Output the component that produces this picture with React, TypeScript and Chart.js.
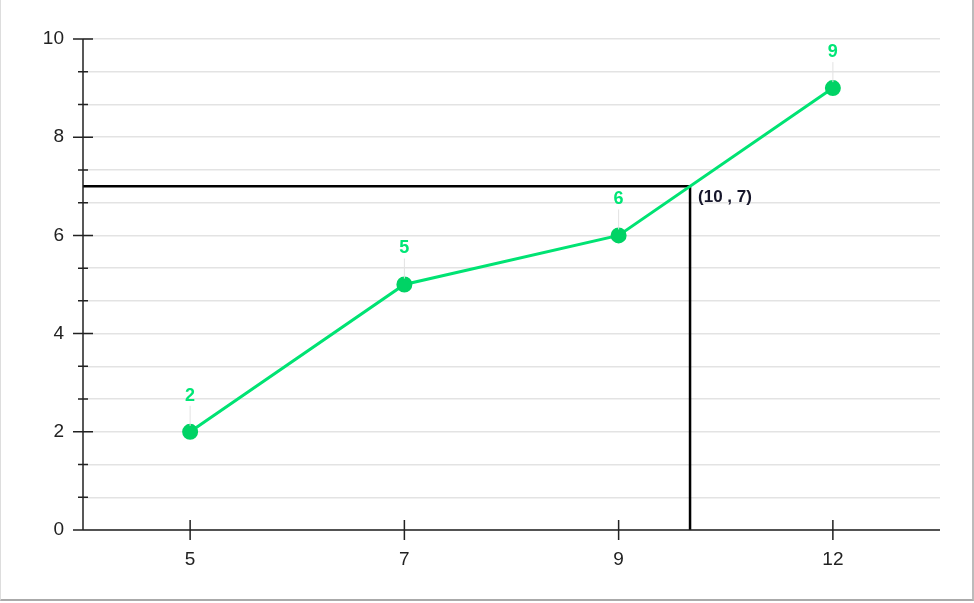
import React, { useEffect, useRef } from "react";
import { Chart, registerables } from "chart.js";

Chart.register(...registerables);

const categories = ["5", "7", "9", "12"];
const values = [2, 5, 6, 9];
const yLabelValues = [0, 2, 4, 6, 8, 10];
const minorPerMajor = 3;
const markX = 10;
const markY = 7;
const markText = "(10 , 7)";

const LINE_GREEN = "#00e373";
const POINT_GREEN = "#00d365";
const LABEL_GREEN = "#00e676";
const FONT = "'Liberation Sans', Arial, sans-serif";

const overlayPlugin = {
  id: "overlay",
  beforeDatasetsDraw(chart: any) {
    const { ctx, chartArea } = chart;
    const xs = chart.scales.x;
    const ys = chart.scales.y;
    const nums = categories.map(Number);
    let px = xs.getPixelForValue(0);
    for (let i = 0; i < nums.length - 1; i++) {
      if (markX >= nums[i] && markX <= nums[i + 1]) {
        const a = xs.getPixelForValue(i);
        const b = xs.getPixelForValue(i + 1);
        px = a + ((markX - nums[i]) / (nums[i + 1] - nums[i])) * (b - a);
      }
    }
    const py = ys.getPixelForValue(markY);
    ctx.save();
    ctx.strokeStyle = "#000";
    ctx.lineWidth = 2.5;
    ctx.beginPath();
    ctx.moveTo(chartArea.left, py);
    ctx.lineTo(px, py);
    ctx.moveTo(px, py);
    ctx.lineTo(px, chartArea.bottom);
    ctx.stroke();
    ctx.fillStyle = "#15152a";
    ctx.font = `bold 17px ${FONT}`;
    ctx.textAlign = "left";
    ctx.textBaseline = "middle";
    ctx.fillText(markText, px + 8, py + 11);

    ctx.strokeStyle = "#222";
    ctx.lineWidth = 1.5;
    ctx.beginPath();
    ctx.moveTo(chartArea.left, chartArea.top);
    ctx.lineTo(chartArea.left, chartArea.bottom);
    ctx.moveTo(chartArea.left - 10, chartArea.bottom);
    ctx.lineTo(chartArea.right, chartArea.bottom);
    ys.ticks.forEach((t: any, i: number) => {
      const y = ys.getPixelForValue(t.value);
      const half = i % minorPerMajor === 0 ? 10 : 5;
      ctx.moveTo(chartArea.left - half, y);
      ctx.lineTo(chartArea.left + half, y);
    });
    categories.forEach((_, i) => {
      const x = xs.getPixelForValue(i);
      ctx.moveTo(x, chartArea.bottom - 10);
      ctx.lineTo(x, chartArea.bottom + 10);
    });
    ctx.stroke();
    ctx.restore();
  },
  afterDatasetsDraw(chart: any) {
    const { ctx } = chart;
    const meta = chart.getDatasetMeta(0);
    ctx.save();
    meta.data.forEach((pt: any, i: number) => {
      const ly = pt.y - 36;
      ctx.strokeStyle = "#e2e2e2";
      ctx.lineWidth = 1;
      ctx.beginPath();
      ctx.moveTo(pt.x, ly + 10);
      ctx.lineTo(pt.x, pt.y - 6);
      ctx.stroke();
      ctx.fillStyle = LABEL_GREEN;
      ctx.font = `bold 18px ${FONT}`;
      ctx.textAlign = "center";
      ctx.textBaseline = "middle";
      ctx.fillText(String(values[i]), pt.x, ly);
    });
    ctx.restore();
  },
};

export default function App() {
  const ref = useRef<HTMLCanvasElement>(null);
  useEffect(() => {
    document.body.style.margin = "0";
    const chart = new Chart(ref.current!, {
      type: "line",
      data: {
        labels: categories,
        datasets: [
          {
            data: values,
            borderColor: LINE_GREEN,
            backgroundColor: POINT_GREEN,
            pointBackgroundColor: POINT_GREEN,
            pointBorderColor: POINT_GREEN,
            borderWidth: 3,
            pointRadius: 6.5,
            tension: 0,
          },
        ],
      },
      options: {
        animation: false,
        responsive: false,
        layout: { padding: { top: 39, right: 32, left: 0, bottom: 0 } },
        plugins: { legend: { display: false }, tooltip: { enabled: false } },
        scales: {
          x: {
            offset: true,
            grid: { display: false },
            border: { display: false },
            ticks: { color: "#222", font: { size: 19, family: FONT }, padding: 10 },
            afterFit: (s: any) => {
              s.height = 70;
            },
          },
          y: {
            min: 0,
            max: 10,
            border: { display: false },
            grid: { color: "#e3e3e3", lineWidth: 1.5, drawTicks: false },
            afterBuildTicks: (s: any) => {
              const step = (yLabelValues[1] - yLabelValues[0]) / minorPerMajor;
              const n = (yLabelValues.length - 1) * minorPerMajor;
              s.ticks = Array.from({ length: n + 1 }, (_, i) => ({ value: i * step }));
            },
            ticks: {
              color: "#222",
              font: { size: 19, family: FONT },
              padding: 19,
              callback: (v: any, i: number) =>
                i % minorPerMajor === 0 ? String(yLabelValues[i / minorPerMajor]) : "",
            },
            afterFit: (s: any) => {
              s.width = 82;
            },
          },
        },
      },
      plugins: [overlayPlugin],
    });
    return () => chart.destroy();
  }, []);
  return (
    <div
      style={{
        position: "absolute",
        left: 0,
        top: 0,
        width: 971,
        height: 599,
        borderLeft: "1px solid #ddd",
        borderRight: "2px solid #bbb",
        borderBottom: "2px solid #aaa",
        background: "#fff",
      }}
    >
      <canvas ref={ref} width={971} height={600} style={{ display: "block" }} />
    </div>
  );
}
